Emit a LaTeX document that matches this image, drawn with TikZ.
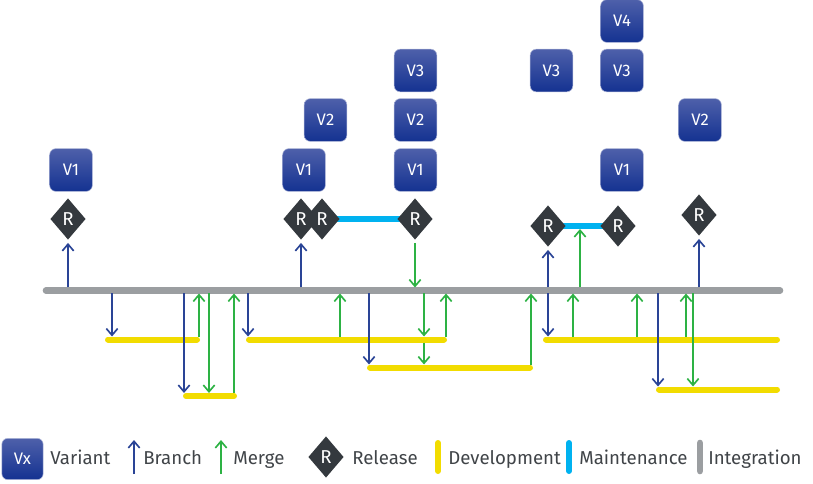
\documentclass[tikz,border=0pt]{standalone}
\usepackage{fontspec}
\setmainfont{Fira Sans}
\usetikzlibrary{shapes.geometric,arrows.meta,backgrounds}

\definecolor{varTop}{RGB}{78,96,170}
\definecolor{varBot}{RGB}{20,50,145}
\definecolor{relGray}{RGB}{52,57,62}
\definecolor{branchBlue}{RGB}{42,68,150}
\definecolor{mergeGreen}{RGB}{45,178,68}
\definecolor{devYellow}{RGB}{242,220,0}
\definecolor{maintCyan}{RGB}{0,178,240}
\definecolor{integGray}{RGB}{155,158,161}
\definecolor{textGray}{RGB}{64,68,72}

\tikzset{
  variant/.style={rectangle, rounded corners=4.5pt, minimum width=32pt, minimum height=32pt,
    top color=varTop, bottom color=varBot, draw=varTop!45!white, line width=0.4pt,
    text=white, font=\fontsize{12.5}{14}\selectfont, inner sep=0pt},
  release/.style={diamond, fill=relGray, minimum width=26.5pt, minimum height=31pt,
    inner sep=0pt, text=white, font=\fontsize{14}{16}\selectfont},
  branch/.style={draw=branchBlue, line width=1.25pt, -{Straight Barb[length=5pt,width=8.5pt]},
    shorten <=2.25pt, shorten >=2.25pt},
  merge/.style={branch, draw=mergeGreen},
  devline/.style={draw=devYellow, line width=4.5pt, line cap=round},
  maintline/.style={draw=maintCyan, line width=4.5pt},
  integline/.style={draw=integGray, line width=5pt, line cap=round},
  legend/.style={text=textGray, font=\fontsize{14}{16}\selectfont, anchor=base west, inner sep=0pt},
}

\begin{document}
\begin{tikzpicture}[x=0.75pt,y=-0.75pt]
    \useasboundingbox (0,0) rectangle (813,484);

    %draw integration and development lines:
    \draw[integline] (46,290.5) coordinate (int) -- (780,290.5);
    \foreach \a/\b/\y/\n in {108/197/339.5/dev1, 186/234/396/dev2, 249/444/339.5/dev3,
        370/530/367.5/dev4, 546/777/339.5/dev5, 659/777/389.5/dev6}
        \draw[devline] (\a,\y) coordinate (\n) -- (\b,\y);

    %releases:
    \node[release] (r1) at (68,219) {R};
    \node[release] (r2) at (301,219) {R};
    \node[release] (r3) at (322,219) {R};
    \node[release] (r4) at (415,219) {R};
    \node[release] (r5) at (548,226) {R};
    \node[release] (r6) at (618,226) {R};
    \node[release] (r7) at (699,215) {R};

    %maintenance lines behind the releases:
    \begin{scope}[on background layer]
        \draw[maintline] (r3.center) -- (r4.center);
        \draw[maintline] (r5.center) -- (r6.center);
    \end{scope}

    %variants:
    \foreach \n/\x/\y/\t in {v1/71/170/V1, v2/304/170/V1, v3/325.5/120/V2,
        v4/415.5/170/V1, v5/415.5/120/V2, v6/415.5/70.5/V3, v7/551.5/70.5/V3,
        v8/622/170/V1, v9/622/70.5/V3, v10/622/21/V4, v11/700/120/V2}
        \node[variant] (\n) at (\x,\y) {\t};

    %branch arrows:
    \draw[branch] (r1 |- int) -- (r1);
    \draw[branch] (r2 |- int) -- (r2);
    \draw[branch] (r5 |- int) -- (r5);
    \draw[branch] (r7 |- int) -- (r7);
    \foreach \x/\a/\b in {112/int/dev1, 184/int/dev2, 248/int/dev3, 369/int/dev4,
        548/int/dev5, 658/int/dev6}
        \draw[branch] (\x,0 |- \a) -- (\x,0 |- \b);

    %merge arrows:
    \draw[merge] (r4) -- (r4 |- int);
    \foreach \x/\a/\b in {199/dev1/int, 209/int/dev2, 234/dev2/int, 340/dev3/int,
        424/int/dev3, 424/dev3/dev4, 446/dev3/int, 531/dev4/int, 573/dev5/int,
        580/int/r5, 637/dev5/int, 686/dev5/int, 693/int/dev6}
        \draw[merge] (\x,0 |- \a) -- (\x,0 |- \b);

    %legend:
    \node[variant, minimum width=31pt, minimum height=31pt] (legVar) at (22.5,459) {Vx};
    \node[legend] (legVarT) at (50,464) {Variant};
    \draw[branch, shorten <=0pt, shorten >=0pt] (134,474) coordinate (legBr) -- (134,440);
    \node[legend] (legBrT) at (143,464) {Branch};
    \draw[merge, shorten <=0pt, shorten >=0pt] (221,474) coordinate (legMe) -- (221,440);
    \node[legend] (legMeT) at (233,464) {Merge};
    \node[release] (legRel) at (326,457) {R};
    \node[legend] (legRelT) at (352,464) {Release};
    \draw[devline] (438,443) coordinate (legDev) -- (438,471);
    \node[legend] (legDevT) at (448,464) {Development};
    \draw[maintline, line cap=round] (569,443) coordinate (legMa) -- (569,471);
    \node[legend] (legMaT) at (579,464) {Maintenance};
    \draw[integline] (700,443) coordinate (legInt) -- (700,471);
    \node[legend] (legIntT) at (708,464) {Integration};

\end{tikzpicture}
\end{document}
